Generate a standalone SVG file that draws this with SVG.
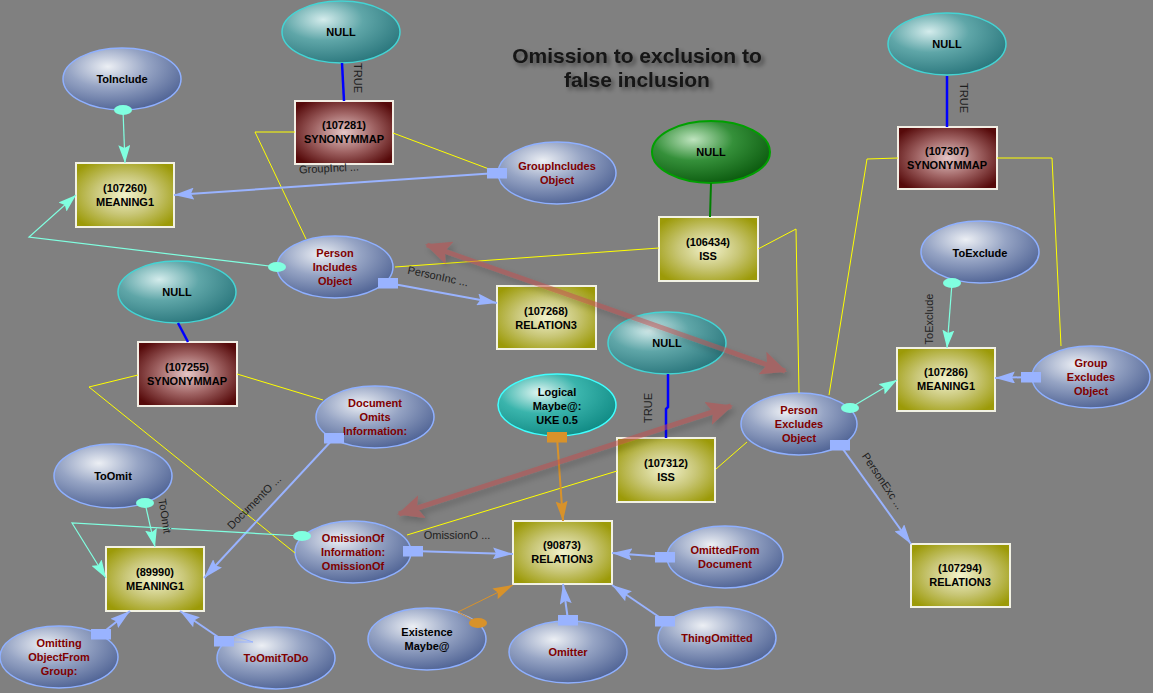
<svg xmlns="http://www.w3.org/2000/svg" width="1153" height="693" viewBox="0 0 1153 693">
<defs>
<style>
text{font-family:"Liberation Sans",Arial,sans-serif;}
.t{font-size:11px;font-weight:bold;text-anchor:middle;fill:#000;}
.r{fill:#800000;}
.lbl{font-size:11px;fill:#1e1e1e;text-anchor:middle;}
.title{font-size:21px;font-weight:bold;fill:#141414;text-anchor:middle;}
.eb{fill:url(#gBlue);stroke:#8fb0ff;stroke-width:1.5;}
.et{fill:url(#gTeal);stroke:#44d4d4;stroke-width:1.5;}
.el{fill:url(#gLog);stroke:#40ffff;stroke-width:1.5;}
.eg{fill:url(#gGreen);stroke:#00a000;stroke-width:2;}
.ro{fill:url(#gOlive);stroke:#f2f2e4;stroke-width:2;}
.rr{fill:url(#gRed);stroke:#f2eee4;stroke-width:2;}
.cb{fill:none;stroke:#0000ff;stroke-width:2.5;}
.cg{fill:none;stroke:#008000;stroke-width:2;}
.cy{fill:none;stroke:#ffff00;stroke-width:1;}
.cl{fill:none;stroke:#99b3ff;stroke-width:2;marker-start:url(#sqB);marker-end:url(#arB);}
.ca{fill:none;stroke:#80ffe0;stroke-width:1.2;marker-start:url(#elA);marker-end:url(#arA);}
.co{fill:none;stroke:#d8922a;stroke-width:2;marker-start:url(#sqO);marker-end:url(#arO);}
.co2{fill:none;stroke:#d8922a;stroke-width:1;marker-start:url(#elO);marker-end:url(#arO);}
.red{fill:none;stroke:#c05050;stroke-width:5;marker-start:url(#arR);marker-end:url(#arR);}
</style>
<radialGradient id="gBlue" cx="0.38" cy="0.3" r="0.75">
<stop offset="0" stop-color="#eceff4"/><stop offset="0.45" stop-color="#96a4c4"/><stop offset="1" stop-color="#4c6092"/>
</radialGradient>
<radialGradient id="gTeal" cx="0.35" cy="0.3" r="0.75">
<stop offset="0" stop-color="#d4ecec"/><stop offset="0.45" stop-color="#5fa6a8"/><stop offset="1" stop-color="#2a767c"/>
</radialGradient>
<radialGradient id="gLog" cx="0.35" cy="0.3" r="0.75">
<stop offset="0" stop-color="#e0f6f2"/><stop offset="0.45" stop-color="#3ab4ac"/><stop offset="1" stop-color="#108a84"/>
</radialGradient>
<radialGradient id="gGreen" cx="0.35" cy="0.3" r="0.75">
<stop offset="0" stop-color="#bfe4bf"/><stop offset="0.45" stop-color="#35903a"/><stop offset="1" stop-color="#0b5a0e"/>
</radialGradient>
<radialGradient id="gOlive" cx="0.5" cy="0.5" r="0.62">
<stop offset="0" stop-color="#f2f2cc"/><stop offset="0.5" stop-color="#c8c676"/><stop offset="1" stop-color="#9c9a08"/>
</radialGradient>
<radialGradient id="gRed" cx="0.5" cy="0.5" r="0.62">
<stop offset="0" stop-color="#e4c6c6"/><stop offset="0.5" stop-color="#a06464"/><stop offset="1" stop-color="#560a0a"/>
</radialGradient>
<filter id="shT" x="-10%" y="-30%" width="120%" height="160%">
<feDropShadow dx="3" dy="3" stdDeviation="2" flood-color="#000" flood-opacity="0.45"/>
</filter>
<filter id="shR" x="-10%" y="-20%" width="120%" height="140%">
<feDropShadow dx="3" dy="4" stdDeviation="3" flood-color="#000" flood-opacity="0.35"/>
</filter>
<marker id="arB" viewBox="0 0 20 12" refX="20" refY="6" markerWidth="20" markerHeight="12" orient="auto" markerUnits="userSpaceOnUse"><path d="M0,0 L20,6 L0,12 L3,6 z" fill="#99b3ff"/></marker>
<marker id="arA" viewBox="0 0 18 12" refX="18" refY="6" markerWidth="18" markerHeight="12" orient="auto" markerUnits="userSpaceOnUse"><path d="M0,0 L18,6 L0,12 L3,6 z" fill="#80ffe0"/></marker>
<marker id="arO" viewBox="0 0 20 12" refX="20" refY="6" markerWidth="20" markerHeight="12" orient="auto" markerUnits="userSpaceOnUse"><path d="M0,0 L20,6 L0,12 L3,6 z" fill="#d8922a"/></marker>
<marker id="arR" viewBox="0 0 26 24" refX="24" refY="12" markerWidth="26" markerHeight="24" orient="auto-start-reverse" markerUnits="userSpaceOnUse"><path d="M0,0 L26,12 L0,24 L5,12 z" fill="#c05050"/></marker>
<marker id="sqB" viewBox="0 0 20 11" refX="10" refY="5.5" markerWidth="20" markerHeight="11" orient="0" markerUnits="userSpaceOnUse"><rect width="20" height="11" fill="#99b3ff"/></marker>
<marker id="sqO" viewBox="0 0 20 11" refX="10" refY="5.5" markerWidth="20" markerHeight="11" orient="0" markerUnits="userSpaceOnUse"><rect width="20" height="11" fill="#d8922a"/></marker>
<marker id="elA" viewBox="0 0 18 10" refX="9" refY="5" markerWidth="18" markerHeight="10" orient="0" markerUnits="userSpaceOnUse"><ellipse cx="9" cy="5" rx="9" ry="5" fill="#80ffe0"/></marker>
<marker id="elO" viewBox="0 0 18 10" refX="9" refY="5" markerWidth="18" markerHeight="10" orient="0" markerUnits="userSpaceOnUse"><ellipse cx="9" cy="5" rx="9" ry="5" fill="#d8922a"/></marker>
</defs>
<rect width="1153" height="693" fill="#808080"/>

<g id="title" filter="url(#shT)">
<text class="title" x="637" y="63">Omission to exclusion to</text>
<text class="title" x="637" y="87">false inclusion</text>
</g>

<g id="nodes">
<g id="null1"><ellipse class="et" cx="341" cy="32" rx="59" ry="31"/><text class="t" x="341" y="36">NULL</text></g>
<g id="toInclude"><ellipse class="eb" cx="122" cy="79" rx="59" ry="31"/><text class="t" x="122" y="83">ToInclude</text></g>
<g id="personIncludes"><ellipse class="eb" cx="335" cy="267" rx="58" ry="31"/><text class="t r" x="335" y="257">Person</text><text class="t r" x="335" y="271">Includes</text><text class="t r" x="335" y="285">Object</text></g>
<g id="groupIncludes"><ellipse class="eb" cx="557" cy="173" rx="59" ry="31"/><text class="t r" x="557" y="170">GroupIncludes</text><text class="t r" x="557" y="184">Object</text></g>
<g id="nullGreen"><ellipse class="eg" cx="711" cy="152" rx="59" ry="31"/><text class="t" x="711" y="156">NULL</text></g>
<g id="null3"><ellipse class="et" cx="947" cy="44" rx="59" ry="31"/><text class="t" x="947" y="48">NULL</text></g>
<g id="toExclude"><ellipse class="eb" cx="980" cy="252" rx="59" ry="31"/><text class="t" x="980" y="257">ToExclude</text></g>
<g id="groupExcludes"><ellipse class="eb" cx="1091" cy="377" rx="59" ry="31"/><text class="t r" x="1091" y="367">Group</text><text class="t r" x="1091" y="381">Excludes</text><text class="t r" x="1091" y="395">Object</text></g>
<g id="personExcludes"><ellipse class="eb" cx="799" cy="424" rx="58" ry="31"/><text class="t r" x="799" y="414">Person</text><text class="t r" x="799" y="428">Excludes</text><text class="t r" x="799" y="442">Object</text></g>
<g id="null4"><ellipse class="et" cx="667" cy="343" rx="59" ry="31"/><text class="t" x="667" y="347">NULL</text></g>
<g id="logical"><ellipse class="el" cx="557" cy="405" rx="59" ry="31"/><text class="t" x="557" y="396">Logical</text><text class="t" x="557" y="410">Maybe@:</text><text class="t" x="557" y="424">UKE 0.5</text></g>
<g id="omittedFrom"><ellipse class="eb" cx="725" cy="557" rx="58" ry="31"/><text class="t r" x="725" y="554">OmittedFrom</text><text class="t r" x="725" y="568">Document</text></g>
<g id="thingOmitted"><ellipse class="eb" cx="717" cy="638" rx="59" ry="31"/><text class="t r" x="717" y="642">ThingOmitted</text></g>
<g id="omitter"><ellipse class="eb" cx="568" cy="652" rx="59" ry="31"/><text class="t r" x="568" y="656">Omitter</text></g>
<g id="existence"><ellipse class="eb" cx="427" cy="639" rx="59" ry="31"/><text class="t" x="427" y="636">Existence</text><text class="t" x="427" y="650">Maybe@</text></g>
<g id="null5"><ellipse class="et" cx="177" cy="292" rx="59" ry="31"/><text class="t" x="177" y="296">NULL</text></g>
<g id="docOmits"><ellipse class="eb" cx="375" cy="417" rx="59" ry="31"/><text class="t r" x="375" y="407">Document</text><text class="t r" x="375" y="421">Omits</text><text class="t r" x="375" y="435">Information:</text></g>
<g id="toOmit"><ellipse class="eb" cx="113" cy="476" rx="59" ry="32"/><text class="t" x="113" y="480">ToOmit</text></g>
<g id="omissionOf"><ellipse class="eb" cx="353" cy="552" rx="58" ry="31"/><text class="t r" x="353" y="542">OmissionOf</text><text class="t r" x="353" y="556">Information:</text><text class="t r" x="353" y="570">OmissionOf</text></g>
<g id="omitting"><ellipse class="eb" cx="59" cy="657" rx="59" ry="31"/><text class="t r" x="59" y="647">Omitting</text><text class="t r" x="59" y="661">ObjectFrom</text><text class="t r" x="59" y="675">Group:</text></g>
<g id="toOmitToDo"><ellipse class="eb" cx="276" cy="658" rx="59" ry="31"/><text class="t r" x="276" y="662">ToOmitToDo</text></g>

<g id="n107260"><rect class="ro" x="76" y="163" width="98" height="64"/><text class="t" x="125" y="192">(107260)</text><text class="t" x="125" y="206">MEANING1</text></g>
<g id="n107281"><rect class="rr" x="295" y="101" width="98" height="63"/><text class="t" x="344" y="129">(107281)</text><text class="t" x="344" y="143">SYNONYMMAP</text></g>
<g id="n106434"><rect class="ro" x="659" y="217" width="99" height="64"/><text class="t" x="708" y="246">(106434)</text><text class="t" x="708" y="260">ISS</text></g>
<g id="n107307"><rect class="rr" x="898" y="127" width="99" height="62"/><text class="t" x="947" y="155">(107307)</text><text class="t" x="947" y="169">SYNONYMMAP</text></g>
<g id="n107286"><rect class="ro" x="897" y="348" width="98" height="63"/><text class="t" x="946" y="376">(107286)</text><text class="t" x="946" y="390">MEANING1</text></g>
<g id="n107294"><rect class="ro" x="911" y="544" width="99" height="63"/><text class="t" x="960" y="572">(107294)</text><text class="t" x="960" y="586">RELATION3</text></g>
<g id="n107268"><rect class="ro" x="497" y="286" width="99" height="63"/><text class="t" x="546" y="315">(107268)</text><text class="t" x="546" y="329">RELATION3</text></g>
<g id="n107312"><rect class="ro" x="617" y="438" width="98" height="64"/><text class="t" x="666" y="467">(107312)</text><text class="t" x="666" y="481">ISS</text></g>
<g id="n90873"><rect class="ro" x="513" y="521" width="99" height="63"/><text class="t" x="562" y="549">(90873)</text><text class="t" x="562" y="563">RELATION3</text></g>
<g id="n107255"><rect class="rr" x="138" y="342" width="99" height="64"/><text class="t" x="187" y="371">(107255)</text><text class="t" x="187" y="385">SYNONYMMAP</text></g>
<g id="n89990"><rect class="ro" x="106" y="547" width="98" height="64"/><text class="t" x="155" y="576">(89990)</text><text class="t" x="155" y="590">MEANING1</text></g>
</g>

<g id="connectors">
<path class="cb" d="M342,63 L344,101"/>
<path class="cb" d="M947,76 L947,127"/>
<path class="cb" d="M668,374 L668,407 L666,409 L666,438"/>
<path class="cb" d="M178,323 L188,342"/>
<path class="cg" d="M711,183 L710,217"/>

<path class="cy" d="M295,132 L255,132 L306,239"/>
<path class="cy" d="M393,133 L497,172"/>
<path class="cy" d="M395,267 L659,248"/>
<path class="cy" d="M758,249 L796,229 L799,393"/>
<path class="cy" d="M898,158 L867,159 L829,395"/>
<path class="cy" d="M997,158 L1052,158 L1061,346"/>
<path class="cy" d="M617,471 L407,535"/>
<path class="cy" d="M716,469 L747,442"/>
<path class="cy" d="M138,375 L89,387 L295,553"/>
<path class="cy" d="M237,374 L323,400"/>

<path class="cl" d="M497,173 L174,195"/>
<path class="cl" d="M388,283 L497,303"/>
<path class="cl" d="M1031,377 L995,378"/>
<path class="cl" d="M840,445 L911,544"/>
<path class="cl" d="M413,551 L513,554"/>
<path class="cl" d="M665,557 L612,553"/>
<path class="cl" d="M665,621 L612,585"/>
<path class="cl" d="M568,620 L563,584"/>
<path class="cl" d="M334,438 L204,578"/>
<path class="cl" d="M101,634 L130,611"/>
<path class="cl" d="M224,641 L180,611"/>
<path d="M234,636 L253,642 L234,642" fill="none" stroke="#99b3ff" stroke-width="1"/>

<path class="ca" d="M123,110 L125,163"/>
<path class="ca" d="M277,267 L29,237 L76,195"/>
<path class="ca" d="M952,283 L947,348"/>
<path class="ca" d="M850,408 L897,380"/>
<path class="ca" d="M145,503 L155,547"/>
<path class="ca" d="M302,536 L72,523 L106,578"/>

<path class="co" d="M557,437 L563,521"/>
<path class="co2" d="M478,623 L458,612 L513,585"/>

<text class="lbl" transform="translate(358,78) rotate(90)" y="4">TRUE</text>
<text class="lbl" transform="translate(964,98) rotate(90)" y="4">TRUE</text>
<text class="lbl" transform="translate(648,408) rotate(-90)" y="4">TRUE</text>
<text class="lbl" transform="translate(929,319) rotate(-90)" y="4">ToExclude</text>
<text class="lbl" transform="translate(165,516) rotate(81)" y="4">ToOmit</text>
<text class="lbl" transform="translate(254,502) rotate(-45)" y="4">DocumentO ...</text>
<text class="lbl" transform="translate(883,481) rotate(56)" y="4">PersonExc ...</text>
<text class="lbl" transform="translate(438,276) rotate(12)" y="4">PersonInc ...</text>
<text class="lbl" transform="translate(329,168) rotate(-3)" y="4">GroupIncl ...</text>
<text class="lbl" x="457" y="539">OmissionO ...</text>
</g>

<g id="annotations" opacity="0.55" filter="url(#shR)">
<path class="red" d="M427,245 L785,371"/>
<path class="red" d="M399,514 L731,406"/>
</g>
</svg>
